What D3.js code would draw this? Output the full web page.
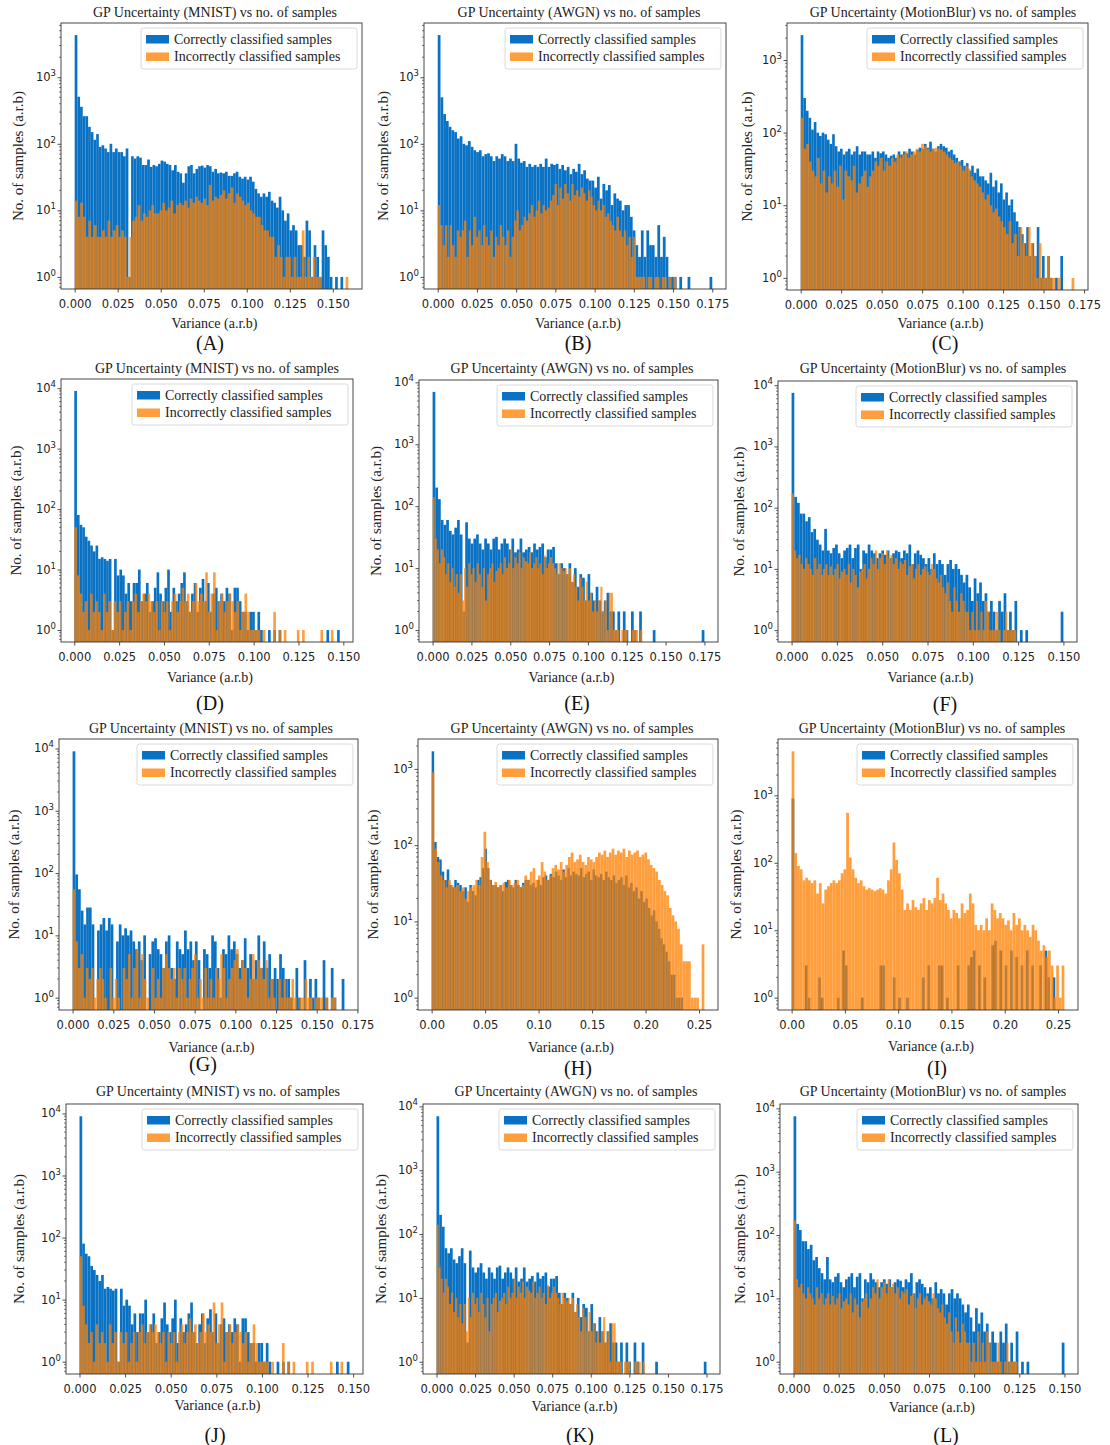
<!DOCTYPE html>
<html><head><meta charset="utf-8">
<script src="https://cdn.jsdelivr.net/npm/d3@7"></script>
<style>body{margin:0;background:#fff}svg{display:block}</style>
</head><body>
<svg id="c" width="1110" height="1445"></svg>
<script>
// ---------------- DATA (histogram counts, 100 bins from 0 to max) ----------------
const seriesNames = ["Correctly classified samples", "Incorrectly classified samples"];
const xLabel = "Variance (a.r.b)";
const yLabel = "No. of samples (a.r.b)";
const xTicks025 = [0, 0.025, 0.05, 0.075, 0.1, 0.125, 0.15, 0.175];
const xTicks05 = [0, 0.05, 0.1, 0.15, 0.2, 0.25];

// Row 1 MNIST
const aBlueMax = 0.156;
const aBlue = [4300,510,360,260,260,180,150,115,140,90,95,85,75,100,75,85,
75,75,65,85,1,65,60,65,62,48,48,58,45,48,46,50,
56,54,50,48,40,48,38,36,26,36,46,48,36,42,46,47,
44,48,46,38,42,36,37,36,38,33,33,36,38,32,30,32,
29,32,27,21,18,16,18,16,19,14,13,11,16,10,7,9,
5,6,5,3,3,2,7,5,1,3,2,1,5,3,2,1,
0,1,0,1];
const aOrangeMax = 0.159;
const aOrange = [14,8,13,8,4,7,4,6,4,4,5,4,7,4,5,6,
4,5,4,1,4,7,8,12,7,9,8,10,12,9,9,10,
13,10,11,14,9,12,13,12,14,11,15,13,16,14,13,15,
12,24,14,16,15,17,20,15,18,22,13,18,16,14,12,13,
10,9,8,8,6,5,5,4,4,2,3,2,1,2,2,1,
2,1,1,5,1,2,1,2,1,1,0,0,0,0,0,0,
0,0,0,1];

// Row 1 AWGN
const bBlueMax = 0.175;
const bBlue = [4300,500,280,220,180,160,150,120,130,100,95,110,90,80,75,
80,65,70,72,65,55,65,60,70,65,55,60,55,100,
60,52,55,45,50,45,48,45,50,45,60,45,50,48,
50,42,48,40,45,35,42,38,50,35,40,30,28,28,
22,32,15,25,20,24,12,18,15,14,10,12,12,8,
5,3,2,5,2,5,3,3,2,6,2,4,2,1,1,
1,0,1,0,0,1,0,0,0,0,0,0,0,1];
const bOrangeMax = 0.152;
const bOrange = [12,6,3,6,2,6,3,2,5,4,5,7,2,5,3,8,4,
5,3,6,4,3,5,2,4,3,6,4,3,5,2,4,7,
10,5,6,8,7,9,12,8,10,14,9,12,10,11,14,17,25,
12,22,15,25,18,14,25,17,20,16,22,18,14,20,16,12,
10,14,10,12,8,9,7,6,5,8,5,4,5,3,4,2,4,
1,1,1,1,0,1,1,0,1,1,0,1,1,0,1,0,1];

// Row 1 MotionBlur
const cBlueMax = 0.162;
const cBlue = [2200,300,200,160,110,140,100,90,100,95,80,70,95,65,55,60,
50,55,60,50,55,65,50,55,55,50,50,55,45,55,52,55,
50,45,48,50,45,55,50,55,52,60,55,50,58,62,60,
70,62,75,60,55,65,70,65,62,55,58,50,45,40,42,35,
38,30,35,28,32,25,25,22,20,28,18,22,15,20,12,
15,10,12,8,6,5,4,3,5,2,3,2,5,1,2,1,
2,1,0,1,0,2];
const cOrangeMax = 0.169;
const cOrange = [160,60,70,40,30,25,45,20,30,15,25,20,30,18,35,
12,30,25,22,35,15,20,25,30,18,25,30,40,35,45,
30,40,35,45,40,50,45,50,55,45,50,55,60,55,70,
65,60,55,60,62,60,58,55,50,45,42,38,40,35,30,
35,32,25,22,20,18,15,12,14,10,8,9,7,6,5,
4,6,3,4,2,5,3,2,5,3,2,1,3,1,1,
2,1,1,0,1,0,0,0,0,1];

// Rows 2 and 4 MNIST
const dBlueMax = 0.148;
const dBlue = [9000,80,55,50,35,30,25,20,25,15,16,15,14,15,1,15,8,
10,8,4,6,3,6,6,10,3,4,6,2,3,5,9,4,3,
5,10,2,5,3,4,6,9,3,2,4,6,2,5,7,3,6,
2,4,5,3,4,3,5,4,1,5,5,3,2,2,1,2,2,
1,2,1,0,0,1,0,1,0,1,0,0,0,0,0,0,0,
0,0,0,0,0,0,0,0,0,0,1,0,0,0,1];
const dOrangeMax = 0.146;
const dOrange = [50,8,4,2,3,1,4,2,3,2,1,4,2,3,1,3,2,
3,1,2,3,1,3,4,2,3,4,3,4,3,2,3,1,3,
2,3,1,3,4,2,3,5,3,4,2,3,6,3,4,3,9,
2,4,9,1,3,4,2,3,4,3,2,3,1,2,4,2,1,
1,1,1,0,1,0,0,0,2,0,1,0,1,0,0,0,0,
1,0,1,0,0,0,0,0,0,1,0,0,0,1,0];

// Rows 2 and 4 AWGN
const eBlueMax = 0.175;
const eBlue = [7000,200,130,60,50,60,40,35,45,60,35,2,55,30,25,
30,35,25,20,30,25,20,30,32,20,25,30,25,20,
30,18,20,30,18,20,22,18,25,20,22,25,15,20,
20,22,12,8,12,10,8,12,6,10,5,8,7,3,
8,4,3,5,3,2,3,4,2,2,1,2,0,2,
1,0,2,1,0,2,0,0,0,0,1,0,0,0,0,
0,0,0,0,0,0,0,0,0,0,0,0,0,1];
const eOrangeMax = 0.135;
const eOrange = [140,30,20,12,20,15,8,12,6,10,5,8,4,8,3,10,5,12,8,
10,6,12,8,5,10,3,8,10,12,6,9,10,12,8,15,10,12,
20,10,15,12,18,10,15,13,12,18,10,12,15,10,12,8,16,10,12,
15,12,10,8,12,10,9,10,8,10,6,8,5,3,7,5,3,6,
3,4,2,3,2,3,5,2,3,1,4,4,1,1,1,0,1,1,
1,0,0,1,1,1,0,1];

// Rows 2 and 4 MotionBlur
const fBlueMax = 0.150;
const fBlue = [7500,150,120,80,80,60,70,40,45,30,25,20,45,20,18,22,25,
18,15,20,22,25,15,22,25,10,20,18,25,20,18,15,18,20,
17,20,15,18,20,19,15,20,18,25,12,18,20,17,15,12,15,
10,18,12,14,12,8,12,14,10,12,10,8,6,8,5,3,7,
4,6,3,4,2,3,2,1,3,2,4,1,2,1,3,0,1,
0,1,0,0,0,0,0,0,0,0,0,0,0,0,2];
const fOrangeMax = 0.124;
const fOrange = [170,20,15,17,12,10,15,12,10,8,15,10,12,8,10,12,8,11,8,10,
12,7,9,10,8,12,6,10,8,5,9,10,12,7,10,15,12,20,10,15,
18,12,20,15,17,12,15,10,13,12,14,8,11,12,7,10,12,8,10,11,
9,8,12,10,7,6,8,5,4,6,3,2,5,3,2,4,3,2,2,1,
2,1,3,1,2,1,3,2,1,1,1,2,1,0,1,2,1,1,1,1];

// Row 3 MNIST
const gBlueMax = 0.167;
const gBlue = [9000,95,55,25,15,28,28,15,0,12,15,19,12,19,15,
0,8,15,10,13,10,12,8,6,8,4,10,0,5,8,
9,6,5,3,8,10,3,2,8,6,5,12,6,8,4,
8,4,0,6,5,3,10,8,3,1,6,5,10,6,8,
5,3,4,9,3,5,2,4,10,3,8,3,5,2,3,
2,5,3,2,2,1,0,3,1,0,4,0,2,1,2,
1,0,4,1,0,3,1,0,0,2];
const gOrangeMax = 0.162;
const gOrange = [55,8,3,5,1,3,2,3,1,2,3,2,1,0,3,1,
2,1,0,3,2,5,1,3,6,1,5,2,1,0,3,1,
2,1,3,5,3,2,3,1,3,2,3,1,2,3,5,1,
2,1,3,1,2,1,3,2,5,3,1,2,3,4,6,2,
4,3,1,2,5,2,4,3,2,4,1,2,1,0,2,1,
2,1,1,2,1,0,1,1,2,1,1,0,1,1,1,0,1,0,1,1];

// Row 3 AWGN
const hBlueMax = 0.235;
const hBlue = [1700,110,70,65,45,35,48,30,28,35,32,30,25,28,18,30,25,22,35,38,50,
90,50,35,30,30,28,30,25,33,35,30,28,35,30,28,32,35,35,30,32,28,35,
30,38,40,35,42,38,45,40,35,48,38,50,40,45,42,40,50,38,42,45,35,
48,40,38,42,35,45,38,35,40,32,35,38,30,40,28,32,25,28,20,25,18,
20,15,12,14,10,8,6,5,4,3,2,2,1,1,1];
const hOrangeMax = 0.255;
const hOrange = [900,90,60,40,35,28,35,30,28,30,25,28,20,25,28,30,35,30,70,150,
60,35,30,33,28,30,32,28,35,30,32,35,28,30,40,35,45,50,35,40,
60,45,35,40,50,55,48,60,45,55,70,80,60,65,75,60,55,70,65,60,
70,80,75,85,70,80,90,75,85,80,90,70,85,75,80,85,70,75,80,65,
55,50,45,35,30,25,22,15,12,10,8,5,3,3,3,1,1,1,0,5];

// Row 3 MotionBlur
const iBlueMax = 0.25;
const iBlue = [900,0,0,0,0,3,1,0,0,0,
2,1,0,0,0,0,0,1,0,5,
3,0,0,0,0,0,1,0,0,0,
0,0,0,3,3,0,0,0,2,0,
1,0,0,1,0,0,0,0,0,2,
0,3,0,0,0,3,3,0,1,0,
0,0,3,0,0,0,3,4,5,0,
3,0,2,0,0,6,7,0,5,0,
3,0,5,0,4,0,3,0,5,0,
3,0,0,3,0,5,2,0,2,0];
const iOrangeMax = 0.256;
const iOrange = [4500,140,90,80,55,60,55,50,55,35,50,25,40,45,50,55,50,55,70,80,
550,120,80,60,50,55,45,40,42,40,38,40,42,40,35,55,80,200,110,70,
40,20,25,20,28,22,20,25,30,20,28,25,30,60,28,35,25,20,15,20,
18,15,25,18,20,35,25,12,10,12,10,15,10,25,20,15,18,15,12,14,
10,18,12,15,10,12,10,8,12,10,7,5,6,4,5,3,1,3,1,3];

// ---------------- LAYOUT ----------------
const T = {m:"GP Uncertainty (MNIST) vs no. of samples", a:"GP Uncertainty (AWGN) vs no. of samples", b:"GP Uncertainty (MotionBlur) vs no. of samples"};
const panels = [
 {L:"(A)", t:T.m, bl:aBlue, blM:aBlueMax, or:aOrange, orM:aOrangeMax, box:[61,23,362,289], tx:215, ty:17, xl:328, lx:210, ly:350, yx:18, tk:xTicks025, f:".3f"},
 {L:"(B)", t:T.a, bl:bBlue, blM:bBlueMax, or:bOrange, orM:bOrangeMax, box:[424,23,726,289], tx:579, ty:17, xl:328, lx:578, ly:350, yx:383, tk:xTicks025, f:".3f"},
 {L:"(C)", t:T.b, bl:cBlue, blM:cBlueMax, or:cOrange, orM:cOrangeMax, box:[787,23,1088,290], tx:943, ty:17, xl:328, lx:945, ly:350, yx:747, tk:xTicks025, f:".3f"},
 {L:"(D)", t:T.m, bl:dBlue, blM:dBlueMax, or:dOrange, orM:dOrangeMax, box:[61,379,353,642], tx:217, ty:373, xl:682, lx:210, ly:710, yx:16, tk:xTicks025, f:".3f"},
 {L:"(E)", t:T.a, bl:eBlue, blM:eBlueMax, or:eOrange, orM:eOrangeMax, box:[419,380,718,642], tx:572, ty:373, xl:682, lx:577, ly:710, yx:376, tk:xTicks025, f:".3f"},
 {L:"(F)", t:T.b, bl:fBlue, blM:fBlueMax, or:fOrange, orM:fOrangeMax, box:[778,381,1077,642], tx:933, ty:373, xl:682, lx:945, ly:711, yx:739, tk:xTicks025, f:".3f"},
 {L:"(G)", t:T.m, bl:gBlue, blM:gBlueMax, or:gOrange, orM:gOrangeMax, box:[59,739,358,1010], tx:211, ty:733, xl:1052, lx:203, ly:1071, yx:14, tk:xTicks025, f:".3f"},
 {L:"(H)", t:T.a, bl:hBlue, blM:hBlueMax, or:hOrange, orM:hOrangeMax, box:[418,739,718,1010], tx:572, ty:733, xl:1052, lx:578, ly:1075, yx:373, tk:xTicks05, f:".2f"},
 {L:"(I)", t:T.b, bl:iBlue, blM:iBlueMax, or:iOrange, orM:iOrangeMax, box:[778,739,1078,1010], tx:932, ty:733, xl:1051, lx:937, ly:1075, yx:736, tk:xTicks05, f:".2f"},
 {L:"(J)", t:T.m, bl:dBlue, blM:dBlueMax, or:dOrange, orM:dOrangeMax, box:[66,1104,363,1374], tx:218, ty:1096, xl:1410, lx:215, ly:1442, yx:19, tk:xTicks025, f:".3f"},
 {L:"(K)", t:T.a, bl:eBlue, blM:eBlueMax, or:eOrange, orM:eOrangeMax, box:[423,1104,720,1374], tx:576, ty:1096, xl:1411, lx:580, ly:1442, yx:381, tk:xTicks025, f:".3f"},
 {L:"(L)", t:T.b, bl:fBlue, blM:fBlueMax, or:fOrange, orM:fOrangeMax, box:[780,1104,1078,1374], tx:933, ty:1096, xl:1412, lx:946, ly:1442, yx:740, tk:xTicks025, f:".3f"}
];

const BLUE = "#0a72c4", ORANGE = "#ff8000", OP = 0.76;
const SERIF = "'Liberation Serif','Times New Roman',serif";
const SANS = "'DejaVu Sans',sans-serif";
const svg = d3.select("#c");
svg.append("rect").attr("width",1110).attr("height",1445).attr("fill","#fff");

panels.forEach(p => {
  const [l,t,r,b] = p.box;
  const xmax = Math.max(p.blM, p.orM);
  const x = d3.scaleLinear().domain([-0.05*xmax, 1.05*xmax]).range([l, r]);
  const m = Math.log10(d3.max(p.bl.concat(p.or)));
  const y = d3.scaleLog().domain([Math.pow(10,-0.05*m), Math.pow(10,1.05*m)]).range([b, t]);
  const g = svg.append("g");

  const drawBars = (arr, max, fill, op) => {
    const w = max/arr.length;
    g.append("g").selectAll("rect")
      .data(arr.map((v,i)=>({v,i})).filter(d=>d.v>0))
      .join("rect")
      .attr("x", d=>x(d.i*w)).attr("width", d=>x((d.i+1)*w)-x(d.i*w))
      .attr("y", d=>y(d.v)).attr("height", d=>b-y(d.v))
      .attr("fill", fill).attr("fill-opacity", op);
  };
  drawBars(p.bl, p.blM, BLUE, 1);
  drawBars(p.or, p.orM, ORANGE, OP);

  // x axis
  const xa = d3.axisBottom(x).tickValues(p.tk.filter(v => v <= x.domain()[1]))
    .tickFormat(d3.format(p.f)).tickSize(3.5).tickSizeOuter(0);
  const gx = g.append("g").attr("transform",`translate(0,${b})`).call(xa);
  gx.select(".domain").remove();
  gx.selectAll("line").attr("stroke","#222").attr("stroke-width",0.8);
  gx.selectAll("text").attr("font-family",SANS).attr("font-size",11.5).attr("fill","#222").attr("dy","1.05em");

  // y axis (log): majors with superscript labels, minors
  const [ylo, yhi] = y.domain();
  const kLo = Math.ceil(Math.log10(ylo)), kHi = Math.floor(Math.log10(yhi));
  const majors = d3.range(kLo, kHi+1).map(k=>Math.pow(10,k));
  const minors = [];
  for (let k = Math.floor(Math.log10(ylo)); k <= kHi; k++)
    for (let j = 2; j <= 9; j++) { const v = j*Math.pow(10,k); if (v>=ylo && v<=yhi) minors.push(v); }
  const ya = d3.axisLeft(y).tickValues(majors).tickFormat("").tickSize(3.5).tickSizeOuter(0);
  const gy = g.append("g").attr("transform",`translate(${l},0)`).call(ya);
  gy.select(".domain").remove();
  gy.selectAll("line").attr("stroke","#222").attr("stroke-width",0.8);
  gy.append("g").selectAll("line").data(minors).join("line")
    .attr("x1",-2).attr("x2",0).attr("y1",d=>y(d)).attr("y2",d=>y(d))
    .attr("stroke","#222").attr("stroke-width",0.6);
  const lab = gy.append("g").selectAll("text").data(majors).join("text")
    .attr("x",-5).attr("y",d=>y(d)+4).attr("text-anchor","end")
    .attr("font-family",SANS).attr("font-size",11.5).attr("fill","#222");
  lab.append("tspan").text("10");
  lab.append("tspan").attr("dy",-5).attr("font-size",8.5).text(d=>String(Math.round(Math.log10(d))));

  // frame
  g.append("rect").attr("x",l).attr("y",t).attr("width",r-l).attr("height",b-t)
    .attr("fill","none").attr("stroke","#333").attr("stroke-width",0.9);

  // legend
  const lw = 216, lh = 41, lx = r-5-lw, ly = t+5;
  g.append("rect").attr("x",lx).attr("y",ly).attr("width",lw).attr("height",lh).attr("rx",2.5)
    .attr("fill","#fff").attr("fill-opacity",0.85).attr("stroke","#d0d0d0").attr("stroke-width",0.8);
  [[BLUE,1],[ORANGE,OP]].forEach(([c,o],k) => {
    g.append("rect").attr("x",lx+5).attr("y",ly+7+k*17.5).attr("width",23).attr("height",8.5)
      .attr("fill",c).attr("fill-opacity",o);
    g.append("text").attr("x",lx+33).attr("y",ly+15.5+k*17.5).text(seriesNames[k])
      .attr("font-family",SERIF).attr("font-size",14).attr("fill","#222");
  });

  // texts
  g.append("text").attr("x",p.tx).attr("y",p.ty).attr("text-anchor","middle").text(p.t)
    .attr("font-family",SERIF).attr("font-size",14).attr("fill","#222");
  g.append("text").attr("x",(l+r)/2+3).attr("y",p.xl).attr("text-anchor","middle").text(xLabel)
    .attr("font-family",SERIF).attr("font-size",14).attr("fill","#222");
  g.append("text").attr("transform",`translate(${p.yx},${(t+b)/2}) rotate(-90)`)
    .attr("text-anchor","middle").attr("dominant-baseline","central").text(yLabel)
    .attr("font-family",SERIF).attr("font-size",15).attr("fill","#222");
  g.append("text").attr("x",p.lx).attr("y",p.ly).attr("text-anchor","middle").text(p.L)
    .attr("font-family",SERIF).attr("font-size",20).attr("fill","#111");
});
</script>
</body></html>
